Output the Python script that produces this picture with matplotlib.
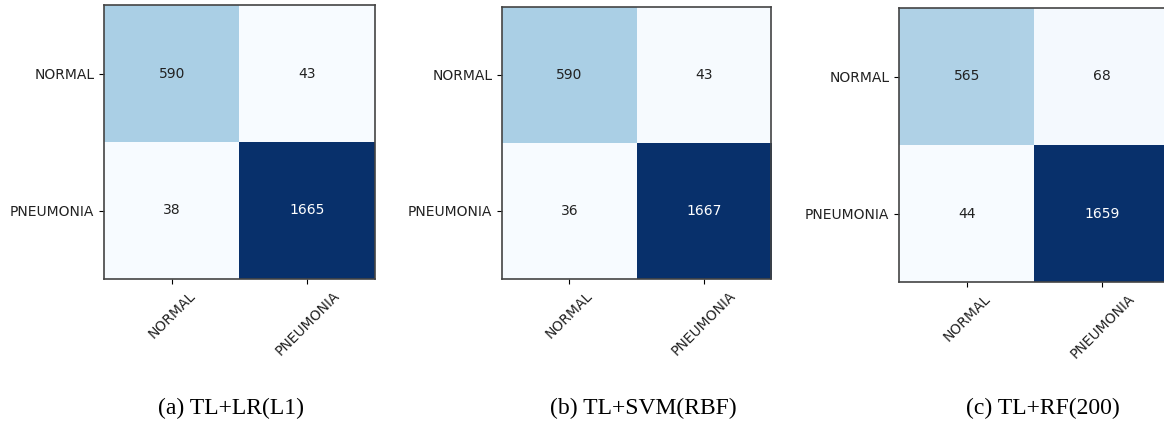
import matplotlib.pyplot as plt
import numpy as np

W, H = 1164, 424

classes = ["NORMAL", "PNEUMONIA"]

cm_lr = [[590, 43], [38, 1665]]
cm_svm = [[590, 43], [36, 1667]]
cm_rf = [[565, 68], [44, 1659]]

captions = ["(a) TL+LR(L1)", "(b) TL+SVM(RBF)", "(c) TL+RF(200)"]

# axes boxes in pixels: left, top, width, height
boxes = [(104, 5, 271, 274), (502, 7, 269, 272), (899, 8, 271, 274)]
caption_x = [231, 643, 1043]
caption_y = 408


def plot_cm(ax, cm):
    cm = np.array(cm)
    ax.imshow(cm, cmap=plt.cm.Blues, aspect='auto', interpolation='nearest')
    thresh = cm.max() / 2.
    for i in range(cm.shape[0]):
        for j in range(cm.shape[1]):
            ax.text(j, i, format(cm[i, j], 'd'), ha='center', va='center',
                    fontsize=10,
                    color='white' if cm[i, j] > thresh else '#222222')
    ax.set_xticks(range(len(classes)))
    ax.set_xticklabels(classes, rotation=45, fontsize=10, color='#222222')
    ax.set_yticks(range(len(classes)))
    ax.set_yticklabels(classes, fontsize=10, color='#222222')
    for s in ax.spines.values():
        s.set_color('#444444')
        s.set_linewidth(1.2)


fig = plt.figure(figsize=(W / 100, H / 100), dpi=100)

for cm, (l, t, w, h), cap, cx in zip([cm_lr, cm_svm, cm_rf], boxes, captions, caption_x):
    ax = fig.add_axes([l / W, 1 - (t + h) / H, w / W, h / H])
    plot_cm(ax, cm)
    fig.text(cx / W, 1 - caption_y / H, cap, ha='center', va='center',
             fontsize=17, family='Liberation Serif')

fig.savefig("out.png", dpi=100)
